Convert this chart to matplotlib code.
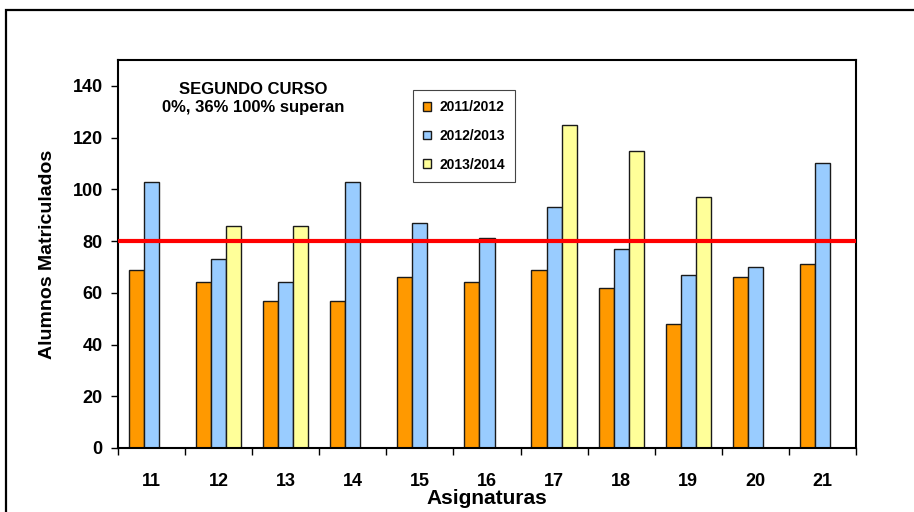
import matplotlib
matplotlib.use("Agg");
import matplotlib.pyplot as plt
import matplotlib.patches as patches
import numpy as np

# values (Alumnos Matriculados per asignatura)
categories = ['11', '12', '13', '14', '15', '16', '17', '18', '19', '20', '21'];
curso2011 = [69, 64, 57, 57, 66, 64, 69, 62, 48, 66, 71];
curso2012 = [103, 73, 64, 103, 87, 81, 93, 77, 67, 70, 110];
curso2013 = [np.nan, 86, 86, np.nan, np.nan, np.nan, 125, 115, 97, np.nan, np.nan];
seriesNames = ['2011/2012', '2012/2013', '2013/2014'];
limite = 80;
yTicks = [0, 20, 40, 60, 80, 100, 120, 140];

plt.rcParams['font.family'] = ['Liberation Sans', 'DejaVu Sans'];
plt.rcParams['font.weight'] = 'bold';

def drawChart():
	fig = plt.figure(figsize=(9.14, 5.12), dpi=100);
	ax = fig.add_axes([118/914, 64/512, 738/914, 388/512]);

	x = np.arange(len(categories));
	w = 0.225;
	colors = ['#FF9900', '#99CCFF', '#FFFF99'];
	series = [curso2011, curso2012, curso2013];
	for i in range(3):
		ax.bar(x + (i - 1)*w, series[i], width=w, color=colors[i], edgecolor='#1a1a1a',
			linewidth=1.0, label=seriesNames[i], zorder=2);

	# the 80 line goes over the bars
	ax.axhline(limite, color='#FF0000', linewidth=3, zorder=3);

	ax.set_xlim(-0.5, len(categories) - 0.5);
	ax.set_ylim(0, 150);
	ax.set_yticks(yTicks);
	ax.tick_params(axis='y', direction='out', length=5, width=1, pad=6, labelsize=13);

	# ticks between groups, labels in the middle
	ax.set_xticks(np.arange(-0.5, len(categories), 1));
	ax.set_xticklabels([]);
	ax.set_xticks(x, minor=True);
	ax.set_xticklabels(categories, minor=True);
	ax.tick_params(axis='x', which='major', direction='out', length=5, width=1);
	ax.tick_params(axis='x', which='minor', length=0, pad=18, labelsize=13);

	for s in ax.spines.values():
		s.set_linewidth(1.5);
		s.set_color('black');

	ax.set_xlabel('Asignaturas', fontsize=15, fontweight='bold');
	ax.xaxis.set_label_coords(0.5, -0.105);
	ax.set_ylabel('Alumnos Matriculados', fontsize=14, fontweight='bold');
	ax.yaxis.set_label_coords(-0.084, 0.5);

	ax.text(0.183, 0.90, 'SEGUNDO CURSO\n0%, 36% 100% superan', transform=ax.transAxes,
		ha='center', va='center', fontsize=12, fontweight='bold', linespacing=1.25);

	leg = ax.legend(loc='upper left', bbox_to_anchor=(413/914, 1 - 90/512), bbox_transform=fig.transFigure,
		fontsize=10, handlelength=0.55, handleheight=0.55, handletextpad=0.6, labelspacing=1.05,
		borderpad=0.75, borderaxespad=0, fancybox=False, framealpha=1, edgecolor='#444444');
	leg.get_frame().set_linewidth(0.8);

	# outer frame of the chart area (only top and left show)
	fig.patches.append(patches.Rectangle((6/914, -0.2), 1.5, 1.2 - 10/512, transform=fig.transFigure,
		fill=False, edgecolor='black', linewidth=1.6, zorder=0));

	fig.savefig('out.png', dpi=100);

drawChart();
